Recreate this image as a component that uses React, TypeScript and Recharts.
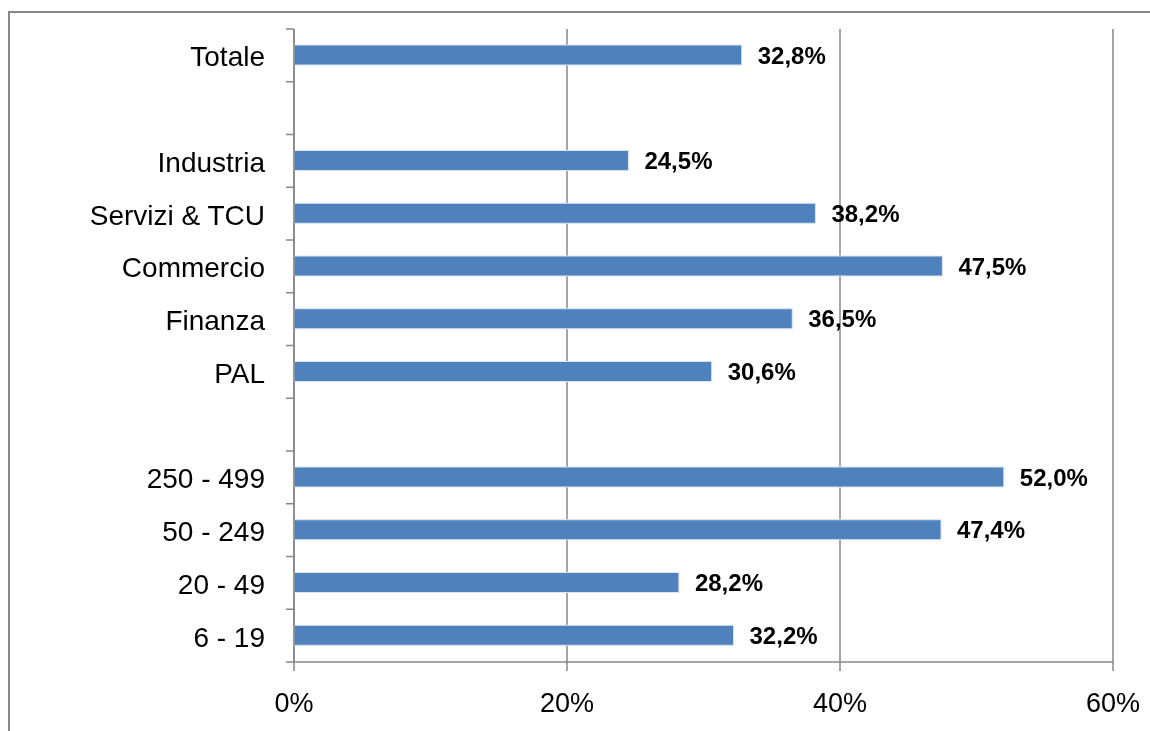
import React from "react";
import { BarChart, Bar, XAxis, YAxis, CartesianGrid, LabelList } from "recharts";

const categories = [
  "Totale",
  "",
  "Industria",
  "Servizi & TCU",
  "Commercio",
  "Finanza",
  "PAL",
  "",
  "250 - 499",
  "50 - 249",
  "20 - 49",
  "6 - 19",
];
const values: (number | null)[] = [32.8, null, 24.5, 38.2, 47.5, 36.5, 30.6, null, 52.0, 47.4, 28.2, 32.2];
const xTicks = [0, 20, 40, 60];

const data = categories.map((c, i) => ({ key: i, label: c, value: values[i] }));

const W = 1142;
const H = 723;
const MARGIN = { top: 21, right: 37, bottom: 0, left: 0 };
const Y_AXIS_W = 286;
const X_AXIS_H = 69;
const PLOT_H = H - MARGIN.top - MARGIN.bottom - X_AXIS_H;
const STEP = PLOT_H / categories.length;
const AXIS_COLOR = "#878787";
const FONT = "'Liberation Sans', Arial, sans-serif";

const YTick = (props: any) => {
  const { y, payload, index } = props;
  const ax = MARGIN.left + Y_AXIS_W;
  const label = categories[payload.value] ?? "";
  return (
    <g>
      <line x1={ax - 8} x2={ax} y1={y - STEP / 2} y2={y - STEP / 2} stroke={AXIS_COLOR} strokeWidth={1.5} />
      {index === categories.length - 1 && (
        <line x1={ax - 8} x2={ax} y1={y + STEP / 2} y2={y + STEP / 2} stroke={AXIS_COLOR} strokeWidth={1.5} />
      )}
      <text x={ax - 29} y={y + 1} dy="0.36em" textAnchor="end" fontSize={28} fontFamily={FONT} fill="#000">
        {label}
      </text>
    </g>
  );
};

const fmt = (v: any) => (v == null ? "" : Number(v).toFixed(1).replace(".", ",") + "%");

export default function App() {
  return (
    <div style={{ position: "relative", width: W, height: H }}>
      <div
        style={{
          position: "fixed",
          left: 8,
          top: 11,
          width: 1300,
          height: 900,
          borderLeft: `2px solid ${AXIS_COLOR}`,
          borderTop: `2px solid ${AXIS_COLOR}`,
          boxSizing: "border-box",
          pointerEvents: "none",
        }}
      />
      <div style={{ position: "absolute", left: 0, top: 0 }}>
        <BarChart width={W} height={H} data={data} layout="vertical" margin={MARGIN} barSize={20}>
          <CartesianGrid horizontal={false} vertical={true} stroke={AXIS_COLOR} strokeWidth={1.5} />
          <XAxis
            type="number"
            domain={[0, 60]}
            ticks={xTicks}
            tickFormatter={(v: number) => `${v}%`}
            height={X_AXIS_H}
            tickSize={9}
            tickMargin={22}
            axisLine={{ stroke: AXIS_COLOR, strokeWidth: 1.5 }}
            tickLine={{ stroke: AXIS_COLOR, strokeWidth: 1.5 }}
            tick={{ fontSize: 27, fontFamily: FONT, fill: "#000" }}
            interval={0}
          />
          <YAxis
            type="category"
            dataKey="key"
            width={Y_AXIS_W}
            axisLine={{ stroke: AXIS_COLOR, strokeWidth: 1.5 }}
            tickLine={false}
            tick={<YTick />}
            interval={0}
          />
          <Bar dataKey="value" fill="#4F81BD" stroke="#dbe5f1" strokeWidth={1} isAnimationActive={false}>
            <LabelList
              dataKey="value"
              position="right"
              offset={16}
              formatter={fmt}
              style={{ fontSize: 24, fontWeight: "bold", fontFamily: FONT, fill: "#000" }}
            />
          </Bar>
        </BarChart>
      </div>
    </div>
  );
}
